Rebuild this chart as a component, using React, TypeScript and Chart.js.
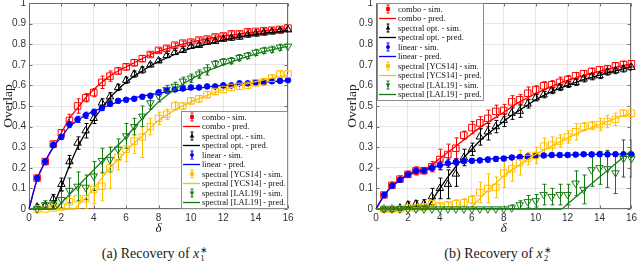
import React, { useEffect, useRef } from 'react';
import { Chart, registerables } from 'chart.js';

Chart.register(...registerables);

// ---------- data ----------
const simDelta = [0.5, 1, 1.5, 2, 2.5, 3, 3.5, 4, 4.5, 5, 5.5, 6, 6.5, 7, 7.5, 8, 8.5, 9, 9.5, 10, 10.5, 11, 11.5, 12, 12.5, 13, 13.5, 14, 14.5, 15, 15.5, 16];

const seriesNames = ['combo', 'spectral opt.', 'linear', 'spectral [YCS14]', 'spectral [LAL19]'];

// Panel (a): recovery of x1*
const comboSimA = [0.15, 0.23, 0.315, 0.37, 0.43, 0.5, 0.54, 0.565, 0.615, 0.645, 0.67, 0.69, 0.71, 0.73, 0.75, 0.77, 0.78, 0.795, 0.805, 0.81, 0.82, 0.825, 0.835, 0.84, 0.85, 0.85, 0.86, 0.862, 0.865, 0.868, 0.872, 0.878];
const comboErrA = [0.015, 0.015, 0.015, 0.015, 0.03, 0.035, 0.02, 0.02, 0.03, 0.025, 0.015, 0.015, 0.015, 0.015, 0.01, 0.01, 0.01, 0.01, 0.01, 0.01, 0.01, 0.01, 0.01, 0.01, 0.01, 0.01, 0.01, 0.01, 0.01, 0.01, 0.01, 0.01];
const optSimA = [0.01, 0.015, 0.05, 0.12, 0.23, 0.32, 0.38, 0.44, 0.515, 0.545, 0.59, 0.625, 0.655, 0.675, 0.7, 0.72, 0.745, 0.76, 0.77, 0.79, 0.795, 0.81, 0.815, 0.825, 0.83, 0.835, 0.845, 0.85, 0.855, 0.86, 0.865, 0.87];
const optErrA = [0.01, 0.015, 0.02, 0.03, 0.03, 0.03, 0.035, 0.025, 0.02, 0.02, 0.015, 0.015, 0.015, 0.015, 0.01, 0.01, 0.01, 0.01, 0.01, 0.01, 0.01, 0.01, 0.01, 0.01, 0.01, 0.01, 0.01, 0.01, 0.01, 0.01, 0.01, 0.01];
const linearSimA = [0.15, 0.23, 0.31, 0.35, 0.41, 0.435, 0.455, 0.47, 0.49, 0.51, 0.525, 0.53, 0.535, 0.545, 0.55, 0.565, 0.575, 0.58, 0.585, 0.59, 0.59, 0.595, 0.595, 0.6, 0.6, 0.61, 0.61, 0.615, 0.615, 0.62, 0.622, 0.625];
const linearErrA = [0.012, 0.012, 0.012, 0.012, 0.015, 0.015, 0.015, 0.015, 0.012, 0.012, 0.01, 0.01, 0.01, 0.01, 0.01, 0.01, 0.01, 0.01, 0.01, 0.01, 0.01, 0.01, 0.01, 0.01, 0.01, 0.01, 0.01, 0.01, 0.01, 0.01, 0.01, 0.01];
const ycsSimA = [0, 0, 0.005, 0.01, 0.035, 0.05, 0.05, 0.095, 0.11, 0.2, 0.25, 0.29, 0.33, 0.35, 0.4, 0.44, 0.46, 0.5, 0.5, 0.525, 0.535, 0.555, 0.57, 0.58, 0.59, 0.595, 0.6, 0.612, 0.618, 0.635, 0.655, 0.655];
const ycsErrA = [0.005, 0.005, 0.01, 0.02, 0.03, 0.05, 0.05, 0.07, 0.07, 0.1, 0.06, 0.06, 0.06, 0.1, 0.04, 0.03, 0.025, 0.02, 0.015, 0.015, 0.015, 0.015, 0.015, 0.015, 0.015, 0.015, 0.015, 0.015, 0.015, 0.015, 0.015, 0.015];
const lalSimA = [0, 0.02, 0.02, 0.045, 0.09, 0.11, 0.105, 0.16, 0.235, 0.24, 0.29, 0.355, 0.4, 0.45, 0.515, 0.55, 0.58, 0.595, 0.62, 0.635, 0.655, 0.675, 0.705, 0.715, 0.72, 0.735, 0.745, 0.76, 0.77, 0.775, 0.785, 0.79];
const lalErrA = [0.01, 0.02, 0.02, 0.04, 0.06, 0.07, 0.06, 0.07, 0.06, 0.06, 0.05, 0.06, 0.04, 0.05, 0.03, 0.03, 0.02, 0.02, 0.02, 0.02, 0.02, 0.025, 0.015, 0.015, 0.015, 0.015, 0.015, 0.015, 0.015, 0.015, 0.015, 0.015];

const comboPredXA = [0, 0.5, 1, 1.5, 2, 2.5, 3, 3.5, 4, 4.5, 5, 5.5, 6, 6.5, 7, 7.5, 8, 9, 10, 11, 12, 13, 14, 15, 16];
const comboPredA = [0, 0.14, 0.23, 0.3, 0.37, 0.44, 0.49, 0.54, 0.58, 0.615, 0.645, 0.67, 0.69, 0.71, 0.73, 0.75, 0.765, 0.79, 0.81, 0.826, 0.84, 0.85, 0.86, 0.868, 0.875];
const linearPredXA = [0, 0.5, 1, 1.5, 2, 2.5, 3, 3.5, 4, 4.5, 5, 5.5, 6, 6.5, 7, 7.5, 8, 9, 10, 11, 12, 13, 14, 15, 16];
const linearPredA = [0, 0.145, 0.23, 0.3, 0.35, 0.4, 0.43, 0.455, 0.475, 0.49, 0.505, 0.52, 0.53, 0.54, 0.548, 0.555, 0.562, 0.573, 0.583, 0.592, 0.6, 0.606, 0.612, 0.618, 0.623];
const optPredXA = [0, 1.4, 1.5, 2, 2.5, 3, 3.5, 4, 4.5, 5, 5.5, 6, 6.5, 7, 7.5, 8, 9, 10, 11, 12, 13, 14, 15, 16];
const optPredA = [0, 0, 0.015, 0.11, 0.21, 0.3, 0.37, 0.435, 0.49, 0.54, 0.58, 0.615, 0.645, 0.67, 0.695, 0.715, 0.75, 0.78, 0.8, 0.82, 0.835, 0.847, 0.857, 0.866];
const ycsPredXA = [0, 2.8, 3, 3.5, 4, 4.5, 5, 5.5, 6, 6.5, 7, 7.5, 8, 9, 10, 11, 12, 13, 14, 15, 16];
const ycsPredA = [0, 0, 0.015, 0.055, 0.1, 0.15, 0.2, 0.24, 0.28, 0.32, 0.355, 0.395, 0.43, 0.48, 0.52, 0.552, 0.58, 0.6, 0.618, 0.635, 0.65];
const lalPredXA = [0, 1.6, 2, 2.5, 3, 3.5, 4, 4.5, 5, 5.5, 6, 6.5, 7, 7.5, 8, 8.5, 9, 10, 11, 12, 13, 14, 15, 16];
const lalPredA = [0, 0, 0.03, 0.07, 0.11, 0.15, 0.19, 0.23, 0.27, 0.31, 0.35, 0.395, 0.44, 0.48, 0.52, 0.55, 0.58, 0.63, 0.67, 0.7, 0.728, 0.752, 0.772, 0.79];

// Panel (b): recovery of x2*
const comboSimB = [0.068, 0.115, 0.145, 0.168, 0.185, 0.186, 0.205, 0.24, 0.265, 0.295, 0.358, 0.395, 0.418, 0.44, 0.474, 0.478, 0.52, 0.53, 0.562, 0.578, 0.598, 0.603, 0.615, 0.628, 0.647, 0.657, 0.668, 0.676, 0.68, 0.695, 0.702, 0.705];
const comboErrB = [0.01, 0.015, 0.015, 0.015, 0.02, 0.015, 0.025, 0.05, 0.05, 0.05, 0.02, 0.03, 0.03, 0.04, 0.03, 0.03, 0.03, 0.025, 0.03, 0.02, 0.02, 0.02, 0.025, 0.02, 0.015, 0.015, 0.015, 0.015, 0.015, 0.015, 0.015, 0.015];
const optSimB = [0, 0, 0.005, 0.02, 0.025, 0.025, 0.06, 0.1, 0.12, 0.17, 0.25, 0.29, 0.35, 0.375, 0.4, 0.43, 0.465, 0.475, 0.51, 0.54, 0.555, 0.575, 0.59, 0.605, 0.615, 0.632, 0.642, 0.648, 0.665, 0.672, 0.68, 0.688];
const optErrB = [0.005, 0.005, 0.01, 0.015, 0.015, 0.02, 0.04, 0.05, 0.07, 0.06, 0.04, 0.03, 0.04, 0.04, 0.03, 0.03, 0.03, 0.03, 0.02, 0.015, 0.015, 0.015, 0.015, 0.015, 0.015, 0.015, 0.015, 0.015, 0.015, 0.015, 0.015, 0.015];
const linearSimB = [0.068, 0.113, 0.142, 0.168, 0.185, 0.186, 0.2, 0.212, 0.222, 0.228, 0.232, 0.234, 0.236, 0.24, 0.243, 0.245, 0.25, 0.252, 0.255, 0.258, 0.26, 0.262, 0.262, 0.262, 0.264, 0.266, 0.265, 0.266, 0.265, 0.266, 0.266, 0.265];
const linearErrB = [0.008, 0.01, 0.01, 0.01, 0.012, 0.012, 0.015, 0.02, 0.02, 0.015, 0.01, 0.01, 0.01, 0.012, 0.012, 0.01, 0.01, 0.01, 0.01, 0.01, 0.01, 0.01, 0.01, 0.01, 0.008, 0.008, 0.01, 0.01, 0.01, 0.008, 0.008, 0.008];
const ycsSimB = [0, 0, 0, 0.005, 0.005, 0.01, 0.025, 0.015, 0.02, 0.025, 0.03, 0.045, 0.08, 0.1, 0.105, 0.175, 0.195, 0.225, 0.245, 0.26, 0.305, 0.31, 0.33, 0.35, 0.375, 0.4, 0.405, 0.41, 0.425, 0.435, 0.465, 0.465];
const ycsErrB = [0.005, 0.005, 0.005, 0.005, 0.005, 0.01, 0.02, 0.01, 0.01, 0.02, 0.02, 0.02, 0.05, 0.07, 0.05, 0.07, 0.06, 0.06, 0.03, 0.04, 0.04, 0.04, 0.03, 0.03, 0.04, 0.02, 0.02, 0.03, 0.03, 0.03, 0.015, 0.03];
const lalSimB = [0, 0, 0, 0, 0, 0, 0, 0, 0, 0, 0, 0, 0, 0, 0, 0, 0.005, 0.02, 0.035, 0.04, 0.07, 0.06, 0.07, 0.07, 0.125, 0.095, 0.19, 0.2, 0.195, 0.175, 0.245, 0.245];
const lalErrB = [0.003, 0.003, 0.003, 0.003, 0.003, 0.003, 0.003, 0.003, 0.003, 0.003, 0.003, 0.003, 0.003, 0.003, 0.003, 0.003, 0.015, 0.02, 0.03, 0.03, 0.05, 0.04, 0.05, 0.05, 0.06, 0.07, 0.08, 0.08, 0.09, 0.1, 0.09, 0.09];

const comboPredXB = [0, 0.5, 1, 1.5, 2, 2.5, 3, 3.5, 4, 4.5, 5, 5.5, 6, 6.5, 7, 7.5, 8, 8.5, 9, 9.5, 10, 11, 12, 13, 14, 15, 16];
const comboPredB = [0, 0.065, 0.11, 0.14, 0.165, 0.18, 0.19, 0.215, 0.245, 0.275, 0.305, 0.335, 0.365, 0.395, 0.42, 0.445, 0.47, 0.495, 0.52, 0.54, 0.56, 0.595, 0.625, 0.648, 0.668, 0.688, 0.705];
const linearPredXB = [0, 0.5, 1, 1.5, 2, 2.5, 3, 3.5, 4, 5, 6, 7, 8, 9, 10, 11, 12, 13, 14, 15, 16];
const linearPredB = [0, 0.065, 0.11, 0.14, 0.165, 0.18, 0.19, 0.2, 0.21, 0.225, 0.235, 0.242, 0.248, 0.253, 0.257, 0.26, 0.262, 0.264, 0.265, 0.266, 0.267];
const optPredXB = [0, 3.1, 3.5, 4, 4.5, 5, 5.5, 6, 6.5, 7, 7.5, 8, 8.5, 9, 9.5, 10, 11, 12, 13, 14, 15, 16];
const optPredB = [0, 0, 0.04, 0.1, 0.155, 0.205, 0.25, 0.29, 0.33, 0.365, 0.395, 0.425, 0.455, 0.48, 0.505, 0.53, 0.57, 0.6, 0.628, 0.65, 0.67, 0.69];
const ycsPredXB = [0, 5.8, 6, 6.5, 7, 7.5, 8, 8.5, 9, 9.5, 10, 10.5, 11, 12, 13, 14, 15, 16];
const ycsPredB = [0, 0, 0.01, 0.05, 0.09, 0.125, 0.16, 0.19, 0.215, 0.24, 0.265, 0.285, 0.305, 0.345, 0.38, 0.41, 0.44, 0.465];
const lalPredXB = [0, 11.6, 12, 13, 14, 15, 16];
const lalPredB = [0, 0, 0.025, 0.09, 0.155, 0.22, 0.285];

const captionA = '(a) Recovery of ';
const captionB = '(b) Recovery of ';

// ---------- styling ----------
const SERIF = '"Liberation Serif", "Times New Roman", serif';
const SANS = '"Liberation Sans", Arial, sans-serif';
const STYLES = [
  { color: '#ff0000', pointStyle: 'rect', radius: 4.6, rotation: 0, filled: false },
  { color: '#000000', pointStyle: 'triangle', radius: 4.3, rotation: 0, filled: false },
  { color: '#0000ff', pointStyle: 'circle', radius: 2.8, rotation: 0, filled: true },
  { color: '#ffbf00', pointStyle: 'rect', radius: 4.6, rotation: 0, filled: false },
  { color: '#157a15', pointStyle: 'triangle', radius: 4.3, rotation: 180, filled: false },
];

type Panel = { sims: number[][]; errs: number[][]; predX: number[][]; predY: number[][] };

const panelA: Panel = {
  sims: [comboSimA, optSimA, linearSimA, ycsSimA, lalSimA],
  errs: [comboErrA, optErrA, linearErrA, ycsErrA, lalErrA],
  predX: [comboPredXA, optPredXA, linearPredXA, ycsPredXA, lalPredXA],
  predY: [comboPredA, optPredA, linearPredA, ycsPredA, lalPredA],
};
const panelB: Panel = {
  sims: [comboSimB, optSimB, linearSimB, ycsSimB, lalSimB],
  errs: [comboErrB, optErrB, linearErrB, ycsErrB, lalErrB],
  predX: [comboPredXB, optPredXB, linearPredXB, ycsPredXB, lalPredXB],
  predY: [comboPredB, optPredB, linearPredB, ycsPredB, lalPredB],
};

function buildDatasets(p: Panel) {
  const out: any[] = [];
  for (let k = 0; k < 5; k++) {
    const s = STYLES[k];
    out.push({
      label: seriesNames[k] + ' - sim.',
      data: simDelta.map((x, i) => ({ x, y: p.sims[k][i] })),
      errors: p.errs[k],
      kind: 'sim',
      styleIdx: k,
      showLine: false,
      pointStyle: s.pointStyle,
      pointRadius: s.radius,
      pointRotation: s.rotation,
      pointBorderWidth: 1,
      borderColor: s.color,
      pointBorderColor: s.color,
      backgroundColor: s.filled ? s.color : 'rgba(0,0,0,0)',
      pointBackgroundColor: s.filled ? s.color : 'rgba(0,0,0,0)',
      clip: false,
      order: -(2 * k),
    });
    out.push({
      label: seriesNames[k] + ' - pred.',
      data: p.predX[k].map((x, i) => ({ x, y: p.predY[k][i] })),
      kind: 'pred',
      styleIdx: k,
      showLine: true,
      pointRadius: 0,
      borderColor: s.color,
      backgroundColor: s.color,
      borderWidth: 1.3,
      cubicInterpolationMode: 'monotone',
      clip: false,
      order: -(2 * k + 1),
    });
  }
  return out;
}

// ---------- plugins ----------
const framePlugin = {
  id: 'frame',
  beforeDatasetsDraw(chart: any) {
    const { ctx, chartArea: a, scales } = chart;
    const x = scales.x, y = scales.y;
    const L = Math.round(a.left) + 0.5, R = Math.round(a.right) - 0.5;
    const T = Math.round(a.top) + 0.5, B = Math.round(a.bottom) - 0.5;
    ctx.save();
    ctx.strokeStyle = '#6e6e6e';
    ctx.lineWidth = 1;
    ctx.strokeRect(L, T, R - L, B - T);
    ctx.beginPath();
    x.ticks.forEach((t: any) => {
      const px = Math.round(x.getPixelForValue(t.value)) + 0.5;
      ctx.moveTo(px, B); ctx.lineTo(px, B - 3);
      ctx.moveTo(px, T); ctx.lineTo(px, T + 3);
    });
    y.ticks.forEach((t: any) => {
      const py = Math.round(y.getPixelForValue(t.value)) + 0.5;
      ctx.moveTo(L, py); ctx.lineTo(L + 3, py);
      ctx.moveTo(R, py); ctx.lineTo(R - 3, py);
    });
    ctx.stroke();
    ctx.restore();
  },
};

const errorBarPlugin = {
  id: 'errBars',
  beforeDatasetsDraw(chart: any) {
    const { ctx, chartArea: a, scales } = chart;
    const x = scales.x, y = scales.y;
    ctx.save();
    ctx.beginPath();
    ctx.rect(a.left, a.top - 1, a.right - a.left, a.bottom - a.top + 1);
    ctx.clip();
    chart.data.datasets.forEach((ds: any) => {
      if (!ds.errors) return;
      ctx.strokeStyle = ds.borderColor;
      ctx.lineWidth = 1;
      ctx.beginPath();
      ds.data.forEach((p: any, j: number) => {
        const e = ds.errors[j];
        const px = Math.round(x.getPixelForValue(p.x)) + 0.5;
        const yt = y.getPixelForValue(p.y + e);
        const yb = y.getPixelForValue(p.y - e);
        ctx.moveTo(px, yt); ctx.lineTo(px, yb);
        ctx.moveTo(px - 2, yt); ctx.lineTo(px + 2, yt);
        ctx.moveTo(px - 2, yb); ctx.lineTo(px + 2, yb);
      });
      ctx.stroke();
    });
    ctx.restore();
  },
};

function drawLegendMarker(ctx: CanvasRenderingContext2D, k: number, cx: number, cy: number) {
  const s = STYLES[k];
  ctx.fillStyle = s.color;
  ctx.strokeStyle = s.color;
  ctx.lineWidth = 1;
  ctx.beginPath();
  ctx.moveTo(cx, cy - 4); ctx.lineTo(cx, cy + 4);
  ctx.moveTo(cx - 1.5, cy - 4); ctx.lineTo(cx + 1.5, cy - 4);
  ctx.moveTo(cx - 1.5, cy + 4); ctx.lineTo(cx + 1.5, cy + 4);
  ctx.stroke();
  ctx.beginPath();
  const r = 2.4;
  if (s.pointStyle === 'rect') {
    ctx.rect(cx - r * 0.8, cy - r * 0.8, r * 1.6, r * 1.6);
  } else if (s.pointStyle === 'circle') {
    ctx.arc(cx, cy, r * 0.8, 0, Math.PI * 2);
  } else if (s.rotation === 180) {
    ctx.moveTo(cx, cy + r); ctx.lineTo(cx - r * 0.95, cy - r * 0.6); ctx.lineTo(cx + r * 0.95, cy - r * 0.6); ctx.closePath();
  } else {
    ctx.moveTo(cx, cy - r); ctx.lineTo(cx - r * 0.95, cy + r * 0.6); ctx.lineTo(cx + r * 0.95, cy + r * 0.6); ctx.closePath();
  }
  ctx.fill();
}

const legendPlugin = {
  id: 'boxLegend',
  afterDraw(chart: any, _args: any, opts: any) {
    const { ctx, chartArea: a } = chart;
    const w = 107, h = 98, rowH = 9.5;
    const left = opts.corner === 'br' ? Math.round(a.right) - w : Math.round(a.left) + 1;
    const top = opts.corner === 'br' ? Math.round(a.bottom) - h : Math.round(a.top);
    ctx.save();
    ctx.fillStyle = '#ffffff';
    ctx.fillRect(left, top, w, h);
    ctx.strokeStyle = '#8c8c8c';
    ctx.lineWidth = 1;
    ctx.strokeRect(left + 0.5, top + 0.5, w - 1, h - 1);
    ctx.font = '8.5px ' + SERIF;
    ctx.textBaseline = 'middle';
    chart.data.datasets.forEach((ds: any, i: number) => {
      const cy = top + 6 + rowH * i;
      if (ds.kind === 'sim') {
        drawLegendMarker(ctx, ds.styleIdx, left + 11, cy);
      } else {
        ctx.strokeStyle = ds.borderColor;
        ctx.lineWidth = 1.3;
        ctx.beginPath();
        ctx.moveTo(left + 2, cy); ctx.lineTo(left + 19, cy);
        ctx.stroke();
      }
      ctx.fillStyle = '#111';
      ctx.fillText(ds.label, left + 21, cy + 0.5);
    });
    ctx.restore();
  },
};

function makeConfig(p: Panel, yWidth: number, padRight: number, titlePad: number, corner: string): any {
  return {
    type: 'scatter',
    data: { datasets: buildDatasets(p) },
    options: {
      responsive: false,
      animation: false,
      events: [],
      layout: { padding: { top: 13, right: padRight, bottom: 0, left: 0 } },
      scales: {
        x: {
          type: 'linear', min: 0, max: 16,
          ticks: { stepSize: 2, padding: 3, color: '#333', font: { family: SANS, size: 10 }, maxRotation: 0, autoSkip: false },
          grid: { color: 'rgba(0,0,0,0.09)', drawTicks: false },
          border: { display: false },
          title: { display: true, text: 'δ', color: '#222', font: { family: SERIF, size: 13, style: 'italic' }, padding: { top: 0, bottom: 4 } },
          afterFit: (s: any) => { s.height = 31; },
        },
        y: {
          type: 'linear', min: 0, max: 1,
          ticks: { stepSize: 0.1, padding: 3, color: '#333', font: { family: SANS, size: 10 }, autoSkip: false, callback: (v: any) => String(Math.round(Number(v) * 10) / 10) },
          grid: { color: 'rgba(0,0,0,0.09)', drawTicks: false },
          border: { display: false },
          title: { display: true, text: 'Overlap', color: '#222', font: { family: SERIF, size: 13.5 }, padding: { top: titlePad, bottom: 0 } },
          afterFit: (s: any) => { s.width = yWidth; },
        },
      },
      plugins: { legend: { display: false }, tooltip: { enabled: false }, boxLegend: { corner } },
    },
    plugins: [framePlugin, errorBarPlugin, legendPlugin],
  };
}

function StackedIdx({ sup, sub }: { sup: string; sub: string }) {
  return (
    <span style={{ display: 'inline-block', verticalAlign: '-3px', fontSize: 9, lineHeight: '8px', textAlign: 'left', marginLeft: 1 }}>
      <span style={{ display: 'block' }}>{sup}</span>
      <span style={{ display: 'block' }}>{sub}</span>
    </span>
  );
}

export default function App() {
  const refA = useRef<HTMLCanvasElement>(null);
  const refB = useRef<HTMLCanvasElement>(null);

  useEffect(() => {
    const a = new Chart(refA.current as HTMLCanvasElement, makeConfig(panelA, 29, 32, 0, 'br'));
    const b = new Chart(refB.current as HTMLCanvasElement, makeConfig(panelB, 56, 6, 24, 'tl'));
    return () => { a.destroy(); b.destroy(); };
  }, []);

  const cap: React.CSSProperties = {
    position: 'absolute', top: 244, fontFamily: SERIF, fontSize: 14, lineHeight: '20px',
    textAlign: 'center', color: '#1a1a1a', whiteSpace: 'nowrap',
  };

  return (
    <div style={{ position: 'fixed', left: 0, top: 0, width: 640, height: 279, background: '#fff', overflow: 'hidden' }}>
      <div style={{ position: 'absolute', left: 0, top: -10, width: 320, height: 250 }}>
        <canvas ref={refA} width={320} height={250} style={{ width: 320, height: 250 }} />
      </div>
      <div style={{ position: 'absolute', left: 320, top: -10, width: 320, height: 250 }}>
        <canvas ref={refB} width={320} height={250} style={{ width: 320, height: 250 }} />
      </div>
      <div style={{ ...cap, left: 0, width: 310 }}>
        {captionA}<i>x</i><StackedIdx sup="∗" sub="1" />
      </div>
      <div style={{ ...cap, left: 340, width: 316 }}>
        {captionB}<i>x</i><StackedIdx sup="∗" sub="2" />
      </div>
    </div>
  );
}
